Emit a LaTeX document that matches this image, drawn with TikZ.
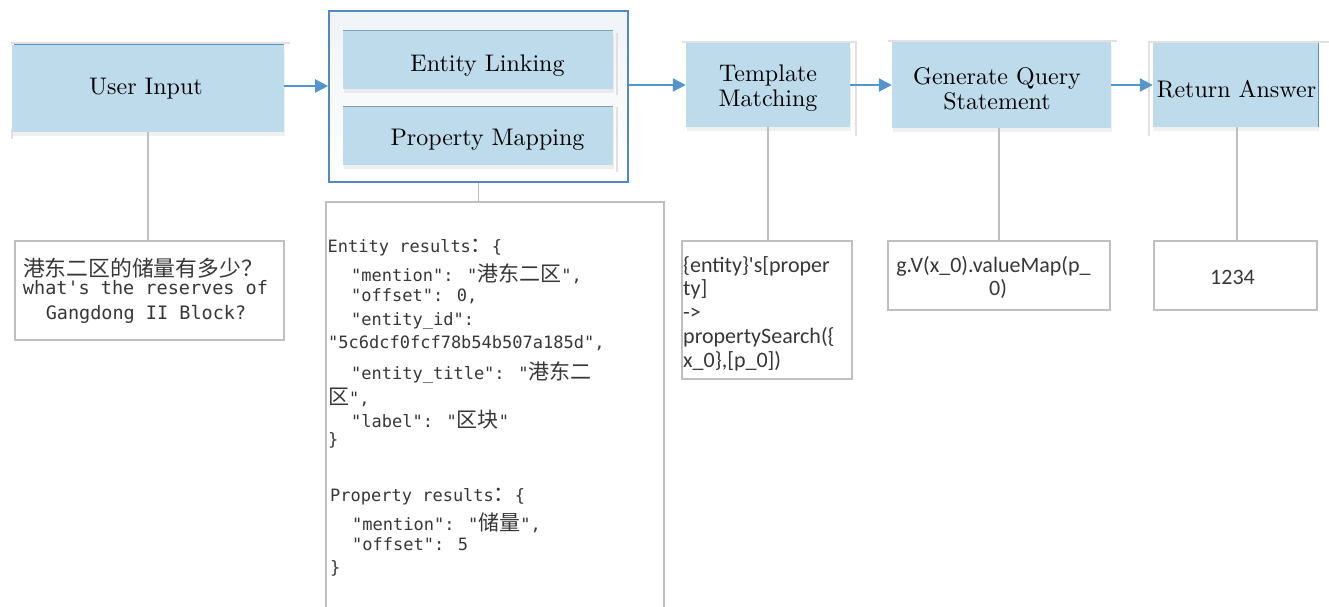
\documentclass[tikz,border=0pt]{standalone}
\usepackage{fontspec}
\usetikzlibrary{arrows.meta,shadows}
\newfontfamily\jcjk{Noto Sans CJK SC}
\newfontfamily\jmono{DejaVu Sans Mono}
\newfontfamily\jsans{Carlito}
\newfontfamily\jtitle{lmroman10-regular}[Extension=.otf]
\definecolor{boxblue}{RGB}{190,219,236}
\definecolor{arrowblue}{RGB}{86,148,204}
\definecolor{frameblue}{RGB}{84,137,192}
\definecolor{linegray}{RGB}{191,191,191}
\definecolor{codetext}{RGB}{55,55,55}
\definecolor{shadegray}{RGB}{225,225,225}
\newcommand{\zhA}[1]{{\jcjk\fontsize{21}{21}\selectfont #1}}
\newcommand{\zhB}[1]{{\jcjk\fontsize{21.8}{22}\selectfont #1}}
\begin{document}
\begin{tikzpicture}[x=1pt,y=-1pt,
  bluebox/.style={draw=none,fill=boxblue,inner sep=0pt,
    drop shadow={fill=gray,opacity=0.12,shadow xshift=1pt,shadow yshift=-4pt}},
  graybox/.style={draw=linegray,line width=1.6pt,fill=white,inner sep=0pt},
  arr/.style={draw=arrowblue,line width=2.4pt,-{Triangle[length=13pt,width=13pt]}},
  link/.style={draw=linegray,line width=1.6pt},
  edgeg/.style={draw=shadegray,line width=1.8pt},
  edgeb/.style={draw=arrowblue,line width=1pt},
  ttl/.style={font=\jtitle\fontsize{24}{25}\selectfont,align=center,inner sep=0pt,text=black},
  jl/.style={anchor=west,inner sep=0pt,text height=12pt,text depth=0pt,
    font=\jmono\fontsize{17}{17}\selectfont,text=codetext},
  ql/.style={anchor=center,inner sep=0pt,text height=12.5pt,text depth=0pt,
    font=\jmono\fontsize{18.5}{18.5}\selectfont,text=codetext},
  tcl/.style={inner sep=0pt,text height=14pt,text depth=0pt,
    font=\jsans\fontsize{22}{22}\selectfont,text=codetext}
]
\useasboundingbox (0,0) rectangle (1329,606);

% ---------- top row boxes ----------
\node[bluebox,minimum width=272pt,minimum height=87pt] (ui) at (148,88.5) {};
\node[draw=frameblue,line width=1.8pt,inner sep=0pt,
      top color={rgb,255:red,240;green,243;blue,247},bottom color=white,
      minimum width=299pt,minimum height=171pt] (outer) at (478.5,96.5) {};
\node[bluebox,minimum width=270pt,minimum height=58pt] (el) at (478,60) {};
\node[bluebox,minimum width=270pt,minimum height=58pt] (pm) at (478,136) {};
\node[bluebox,minimum width=164pt,minimum height=84pt] (tm) at (768,85) {};
\node[bluebox,minimum width=219pt,minimum height=86pt] (gq) at (1001.5,85) {};
\node[bluebox,minimum width=165pt,minimum height=84pt] (ra) at (1235.5,85) {};

% edge artefacts of the boxes
\draw[edgeg] ([xshift=-1pt,yshift=1.5pt]ui.north west) -- ([xshift=6pt,yshift=1.5pt]ui.north east);
\draw[edgeb] ([xshift=2pt]ui.north west) -- (ui.north east);
\draw[edgeg] ([yshift=-7pt]ui.south west) -- ([yshift=3pt]ui.south west);
\draw[draw={rgb,255:red,130;green,160;blue,190},line width=1pt] (el.north west) -- (el.north east);
\draw[draw={rgb,255:red,130;green,160;blue,190},line width=1pt] (pm.north west) -- (pm.north east);
\draw[edgeg] ([xshift=4pt,yshift=-2pt]el.north east) -- ([xshift=4pt,yshift=-6pt]el.south east);
\draw[edgeg] ([xshift=4pt]pm.north east) -- ([xshift=4pt,yshift=-7pt]pm.south east);
\draw[edgeg] ([xshift=-4pt,yshift=1pt]tm.north west) -- ([xshift=6pt,yshift=1pt]tm.north east)
             -- ([xshift=6pt,yshift=-9pt]tm.south east);
\draw[edgeg] ([xshift=-4pt,yshift=1pt]gq.north west) -- ([xshift=6pt,yshift=1pt]gq.north east);
\draw[edgeg] ([xshift=-4pt,yshift=-9pt]ra.south west) -- ([xshift=-4pt,yshift=1pt]ra.north west)
             -- ([xshift=11pt,yshift=1pt]ra.north east);
\draw[edgeb] (ra.north east) -- (ra.south east);

% titles
\node[ttl] (tui) at (146,89) {User Input};
\node[ttl] (tel) at (487.5,66) {Entity Linking};
\node[ttl] (tpm) at (487.5,140) {Property Mapping};
\node[ttl] (ttm) at (768,88) {Template\\Matching};
\node[ttl] (tgq) at (997,89) {Generate Query\\Statement};
\node[ttl] (tra) at (1236.5,89) {Return Answer};

% ---------- arrows ----------
\draw[arr] ([yshift=2.5pt]ui.east) -- ([yshift=2.5pt]ui.east -| outer.west);
\draw[arr] (outer.east |- tm.west) -- (tm.west);
\draw[arr] (tm.east) -- (gq.west);
\draw[arr] (gq.east) -- (ra.west);

% ---------- bottom boxes ----------
\node[graybox,minimum width=269pt,minimum height=99pt] (q1) at (149.5,290.5) {};
\node[graybox,minimum width=338pt,minimum height=418pt] (json) at (495,411) {};
\node[graybox,minimum width=170pt,minimum height=138pt] (tc) at (766.7,310) {};
\node[graybox,minimum width=222pt,minimum height=69pt] (qs) at (999,275.5) {};
\node[graybox,minimum width=163pt,minimum height=69pt] (ans) at (1235.5,275.5) {};

% ---------- vertical connectors ----------
\draw[link] (ui.south) -- (ui.south |- q1.north);
\draw[link] (outer.south) -- (outer.south |- json.north);
\draw[link] (tm.south) -- (tm.south |- tc.north);
\draw[link] ([xshift=-2.5pt]gq.south) -- ([xshift=-2.5pt]gq.south |- qs.north);
\draw[link] ([xshift=1.5pt]ra.south) -- ([xshift=1.5pt]ra.south |- ans.north);

% ---------- input text ----------
\node[ql] (q1a) at (143,270) {\zhB{港东二区的储量有多少？}};
\node[ql] (q1b) at (145.5,288) {what's the reserves of};
\node[ql] (q1c) at (146,313) {Gangdong II Block?};

% ---------- json text ----------
\node[jl] (j1) at (327.5,246) {Entity results\zhA{：}\{};
\node[jl] (j2) at (351,275) {"mention": "\zhA{港东二区}",};
\node[jl] (j3) at (351,295) {"offset": 0,};
\node[jl] (j4) at (351,319) {"entity\_id":};
\node[jl] (j5) at (328,342) {"5c6dcf0fcf78b54b507a185d",};
\node[jl] (j6) at (351,373) {"entity\_title": "\zhA{港东二}};
\node[jl] (j7) at (328,398) {\zhA{区}",};
\node[jl] (j8) at (351,421) {"label": "\zhA{区块}"};
\node[jl] (j9) at (328,439) {\}};
\node[jl] (j10) at (330,495) {Property results\zhA{：}\{};
\node[jl] (j11) at (352,524) {"mention": "\zhA{储量}",};
\node[jl] (j12) at (352,544) {"offset": 5};
\node[jl] (j13) at (330,567) {\}};

% ---------- template code ----------
\node[tcl,anchor=west] (t1) at (683,265) {\{entity\}'s[proper};
\node[tcl,anchor=west] (t2) at (683,288) {ty]};
\node[tcl,anchor=west] (t3) at (683,312) {->};
\node[tcl,anchor=west] (t4) at (683,336) {propertySearch(\{};
\node[tcl,anchor=west] (t5) at (683,360) {x\_0\},[p\_0])};

% ---------- query / answer ----------
\node[tcl,anchor=center] (s1) at (993.5,265) {g.V(x\_0).valueMap(p\_};
\node[tcl,anchor=center] (s2) at (998,288) {0)};
\node[tcl,anchor=center] (a1) at (1232.5,277) {1234};
\end{tikzpicture}
\end{document}
